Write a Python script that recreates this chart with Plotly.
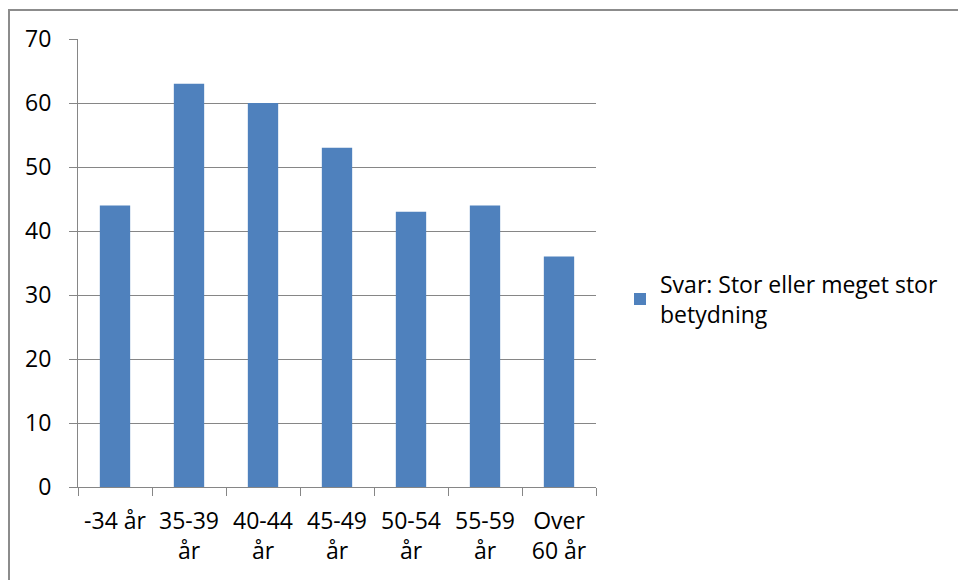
import plotly.graph_objects as go

# Survey answers per age group
categories = ["-34 år", "35-39<br>år", "40-44<br>år", "45-49<br>år", "50-54<br>år", "55-59<br>år", "Over<br>60 år"]
values = [44, 63, 60, 53, 43, 44, 36]
series_name = "Svar: Stor eller meget stor<br>betydning"
y_ticks = [0, 10, 20, 30, 40, 50, 60, 70]

W, H = 958, 580
L, R, T, B = 78, 362, 39, 93
plot_w = W - L - R
plot_h = H - T - B

BAR = "#4F81BD"
GRID = "#868686"
FONT = "'Open Sans', 'Noto Sans', sans-serif"
FS = 23

fig = go.Figure(
    go.Bar(
        x=categories,
        y=values,
        name=series_name,
        marker=dict(color=BAR, line=dict(width=0)),
        showlegend=True,
    )
)

fig.update_layout(
    width=W,
    height=H,
    margin=dict(l=L, r=R, t=T, b=B),
    paper_bgcolor="white",
    plot_bgcolor="white",
    bargap=0.59,
    font=dict(family=FONT, size=FS, color="#000000"),
    showlegend=True,
    legend=dict(
        x=(620 - L) / plot_w,
        y=(H - B - 299) / plot_h,
        xanchor="left",
        yanchor="middle",
        font=dict(family=FONT, size=FS, color="#000000"),
        itemsizing="constant",
        bgcolor="rgba(0,0,0,0)",
        tracegroupgap=0,
    ),
    xaxis=dict(
        showgrid=False,
        showline=True,
        linecolor=GRID,
        linewidth=1,
        ticks="outside",
        tickson="boundaries",
        ticklen=8,
        tickcolor=GRID,
        ticklabelstandoff=13,
        tickfont=dict(family=FONT, size=FS),
    ),
    yaxis=dict(
        range=[0, 70],
        tickvals=y_ticks,
        showgrid=True,
        gridcolor=GRID,
        gridwidth=1,
        showline=True,
        linecolor=GRID,
        linewidth=1,
        ticks="outside",
        ticklen=8,
        tickcolor=GRID,
        ticklabelstandoff=13,
        zeroline=False,
        tickfont=dict(family=FONT, size=FS),
    ),
    shapes=[
        dict(
            type="rect",
            xref="paper",
            yref="paper",
            x0=(9 - L) / plot_w,
            x1=(W + 20 - L) / plot_w,
            y0=(H - B - (H + 20)) / plot_h,
            y1=(H - B - 10) / plot_h,
            line=dict(color="#8C8C8C", width=2),
            fillcolor="rgba(0,0,0,0)",
            layer="below",
        )
    ],
)

fig.write_html("out.html")
